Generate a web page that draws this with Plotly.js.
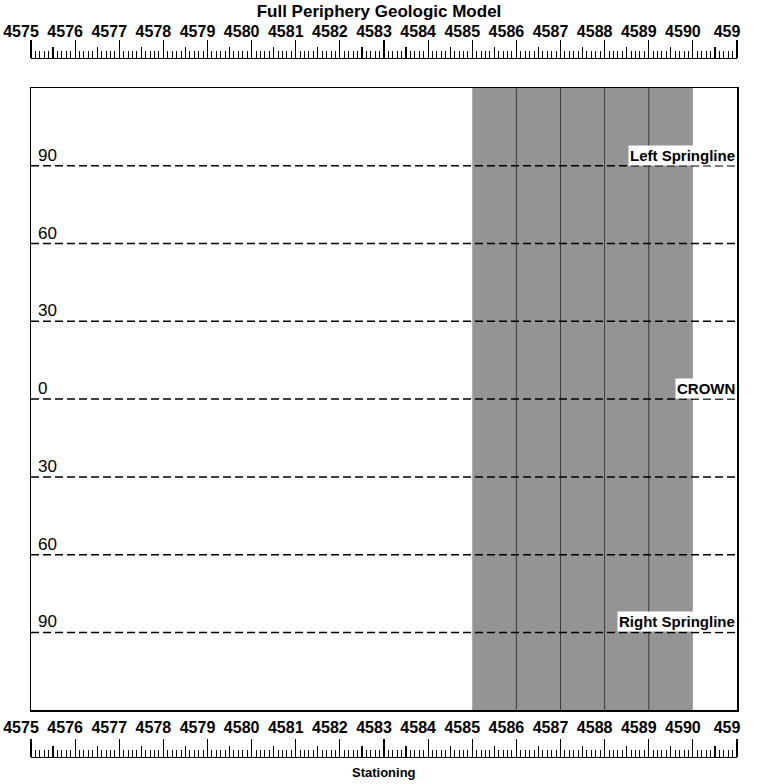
<!DOCTYPE html>
<html><head><meta charset="utf-8">
<script src="https://cdn.plot.ly/plotly-3.0.1.min.js"></script>
<style>html,body{margin:0;padding:0;background:#fff}</style>
</head><body>
<div id="chart" style="width:758px;height:784px"></div>
<script>
// ---- data ----
const stationRange = [4575, 4591];
const stations = [4575,4576,4577,4578,4579,4580,4581,4582,4583,4584,4585,4586,4587,4588,4589,4590,4591];
const stationLabels = ['4575','4576','4577','4578','4579','4580','4581','4582','4583','4584','4585','4586','4587','4588','4589','4590','459'];
const halfStations = [4575.5,4576.5,4577.5,4578.5,4579.5,4580.5,4581.5,4582.5,4583.5,4584.5,4585.5,4586.5,4587.5,4588.5,4589.5,4590.5];
const angleRange = [-120, 120];
const angles = [90, 60, 30, 0, -30, -60, -90];
const angleLabels = ['90', '60', '30', '0', '30', '60', '90'];
const refAngles = [90, 0, -90];
const refNames = ['Left Springline', 'CROWN', 'Right Springline'];
const shadeStart = 4585;
const shadeEnd = 4590;
const shadeLines = [4586, 4587, 4588, 4589];

const FONT = 'Arial, "Liberation Sans", sans-serif';
const traces = [];

// shaded zone
traces.push({
  x: [shadeStart, shadeEnd, shadeEnd, shadeStart, shadeStart],
  y: [angleRange[0], angleRange[0], angleRange[1], angleRange[1], angleRange[0]],
  fill: 'toself', fillcolor: '#949494', mode: 'lines', line: {width: 0, color: '#949494'},
  hoverinfo: 'skip', showlegend: false
});
// vertical lines inside shaded zone
shadeLines.forEach(s => traces.push({
  x: [s, s], y: angleRange, mode: 'lines', line: {color: '#3a3a3a', width: 1},
  hoverinfo: 'skip', showlegend: false
}));
// dashed angle lines
angles.forEach(a => traces.push({
  x: stationRange, y: [a, a], mode: 'lines', line: {color: '#000', width: 1.5, dash: '8px,4px'},
  hoverinfo: 'skip', showlegend: false
}));
// helper traces for ruler axes
['x2','x3','x4','x5'].forEach(ax => traces.push({
  x: stations, y: stations.map(() => 0), xaxis: ax, mode: 'none', hoverinfo: 'skip', showlegend: false
}));

const annotations = [];
angles.forEach((a, i) => annotations.push({
  x: stationRange[0], y: a, xref: 'x', yref: 'y', text: angleLabels[i], showarrow: false,
  xanchor: 'left', yanchor: 'bottom', xshift: 5, yshift: -1,
  font: {family: FONT, size: 17, color: '#000'}
}));
refAngles.forEach((a, i) => annotations.push({
  x: stationRange[1], y: a, xref: 'x', yref: 'y', text: '<b>' + refNames[i] + '</b>', showarrow: false,
  xanchor: 'right', yanchor: 'bottom', yshift: 0, bgcolor: '#fff', borderpad: 1,
  font: {family: FONT, size: 15, color: '#000'}
}));
annotations.push({
  x: 0.5, y: -0.022, xref: 'paper', yref: 'paper', yanchor: 'middle',
  text: '<b>Stationing</b>', showarrow: false, font: {family: FONT, size: 13, color: '#000'}
});

function ruler(pos, len, labels, vals, standoff) {
  const ax = {
    overlaying: 'x', anchor: 'free', position: pos, side: 'top',
    range: stationRange, tickmode: 'array', tickvals: vals,
    ticks: 'outside', ticklen: len, tickwidth: 1.2, tickcolor: '#000',
    showline: true, linecolor: '#000', linewidth: 1.2,
    showgrid: false, zeroline: false, showticklabels: labels,
    tickfont: {family: FONT, size: 16, color: '#000', weight: 'bold'}, ticklabelstandoff: standoff
  };
  if (labels) {
    ax.ticktext = stationLabels;
    ax.ticklabelshift = -10;
    ax.minor = {ticks: 'outside', tickmode: 'linear', tick0: stationRange[0], dtick: 0.1, ticklen: 7, tickwidth: 1, tickcolor: '#000', showgrid: false};
  }
  return ax;
}

const layout = {
  width: 758, height: 784,
  margin: {l: 31, r: 21, t: 58, b: 27, pad: 0},
  paper_bgcolor: '#fff', plot_bgcolor: '#fff',
  showlegend: false,
  title: {text: '<b>Full Periphery Geologic Model</b>', x: 0.5, xanchor: 'center', y: 0.986, yref: 'container', yanchor: 'middle',
          font: {family: FONT, size: 17, color: '#000'}},
  xaxis: {range: stationRange, showticklabels: false, ticks: '', showgrid: false, zeroline: false,
          showline: true, mirror: true, linecolor: '#000', linewidth: 1.5},
  yaxis: {range: angleRange, domain: [0.067, 0.957], showticklabels: false, ticks: '', showgrid: false, zeroline: false,
          showline: true, mirror: true, linecolor: '#000', linewidth: 1.5},
  xaxis2: ruler(1, 18, true, stations, -3),
  xaxis3: ruler(1, 11, false, halfStations, 0),
  xaxis4: ruler(0, 18, true, stations, 0),
  xaxis5: ruler(0, 11, false, halfStations, 0),
  annotations: annotations
};

Plotly.newPlot('chart', traces, layout, {displayModeBar: false, staticPlot: true});
</script>
</body></html>
